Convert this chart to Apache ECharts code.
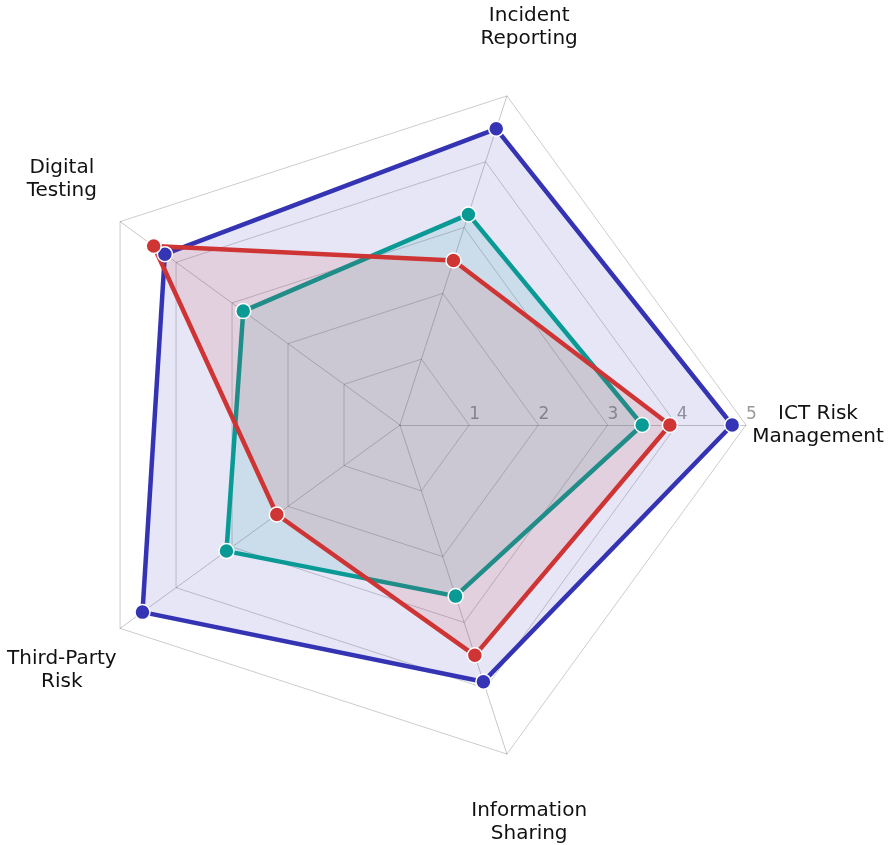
<!DOCTYPE html>
<html>
<head>
<meta charset="utf-8">
<style>
  html, body { margin: 0; padding: 0; background: #ffffff; }
  #chart { width: 889px; height: 845px; }
</style>
<script src="https://cdn.jsdelivr.net/npm/echarts@6/dist/echarts.min.js"></script>
</head>
<body>
<div id="chart"></div>
<script>
// ---- data ----
const indicatorNames = ['ICT Risk\nManagement', 'Incident\nReporting', 'Digital\nTesting', 'Third-Party\nRisk', 'Information\nSharing'];
const maxValue = 5;
const tickLabels = ['1', '2', '3', '4', '5'];
const seriesNames = ['Target', 'Peer Average', 'Current'];
const targetValues = [4.8, 4.5, 4.2, 4.6, 3.9];
const peerValues = [3.5, 3.2, 2.8, 3.1, 2.6];
const currentValues = [3.9, 2.5, 4.4, 2.2, 3.5];

// ---- layout / style ----
const cx = 400, cy = 425, radius = 346, nameRadius = 418;
const colors = ['#3434b4', '#0a9a96', '#cf3535'];
const FONT = '"DejaVu Sans", sans-serif';

const chart = echarts.init(document.getElementById('chart'), null, { renderer: 'canvas' });

const indicators = indicatorNames.map((n, i) => {
  const ind = { name: n, max: maxValue, min: 0 };
  if (i === 0) ind.axisLabel = { show: true };
  return ind;
});

// axis name labels, centered along each spoke direction
const n = indicatorNames.length;
const nameGraphics = indicatorNames.map((name, i) => {
  const ang = (i * 2 * Math.PI) / n;
  return {
    type: 'text',
    x: cx + nameRadius * Math.cos(ang),
    y: cy - nameRadius * Math.sin(ang),
    style: {
      text: name,
      align: 'center',
      verticalAlign: 'middle',
      font: '20px ' + FONT,
      lineHeight: 23,
      fill: '#111111'
    },
    z: 100
  };
});

function makeSeries(name, values, color) {
  return {
    type: 'radar',
    name: name,
    data: [{ value: values, name: name }],
    symbol: 'circle',
    symbolSize: 15,
    lineStyle: { color: color, width: 4.5 },
    itemStyle: { color: color, borderColor: '#ffffff', borderWidth: 1.5 },
    areaStyle: { color: color, opacity: 0.12 },
    emphasis: { disabled: true },
    animation: false
  };
}

chart.setOption({
  backgroundColor: '#ffffff',
  animation: false,
  radar: {
    center: [cx, cy],
    radius: radius,
    startAngle: 0,
    shape: 'polygon',
    splitNumber: 5,
    indicator: indicators,
    axisName: { show: false },
    axisLine: { lineStyle: { color: 'rgba(0,0,0,0.22)', width: 1 } },
    splitLine: { lineStyle: { color: 'rgba(0,0,0,0.2)', width: 1 } },
    splitArea: { show: false },
    axisTick: { show: false },
    axisLabel: {
      show: false,
      color: '#9a9a9a',
      fontSize: 17,
      fontFamily: FONT,
      align: 'left',
      verticalAlign: 'bottom',
      margin: 2,
      showMinLabel: false,
      formatter: function (v) {
        const idx = Math.round(v) - 1;
        return idx >= 0 && idx < tickLabels.length ? tickLabels[idx] : '';
      }
    }
  },
  graphic: nameGraphics,
  series: [
    makeSeries(seriesNames[0], targetValues, colors[0]),
    makeSeries(seriesNames[1], peerValues, colors[1]),
    makeSeries(seriesNames[2], currentValues, colors[2])
  ]
});
</script>
</body>
</html>
